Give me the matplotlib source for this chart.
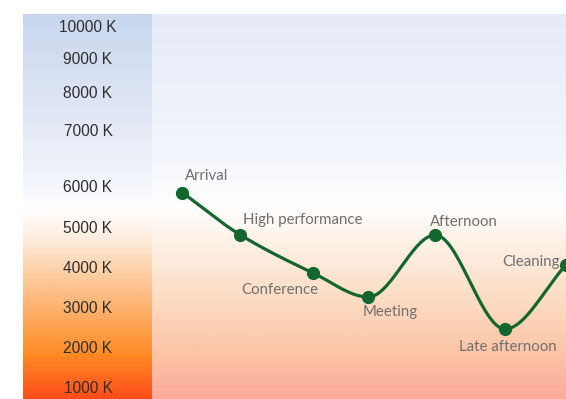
import numpy as np
import matplotlib
matplotlib.use("Agg")
import matplotlib.pyplot as plt
from matplotlib.colors import to_rgb

# ---------------- data ----------------
stages = ["Arrival", "High performance", "Conference", "Meeting",
          "Afternoon", "Late afternoon", "Cleaning"]
hours = [8.0, 9.0, 10.25, 11.2, 12.35, 13.55, 14.6]
kelvin = [5850, 4800, 3850, 3250, 4800, 2450, 4050]
tick_values = [1000, 2000, 3000, 4000, 5000, 6000, 7000, 8000, 9000, 10000]
tick_labels = ["1000 K", "2000 K", "3000 K", "4000 K", "5000 K", "6000 K",
               "7000 K", "8000 K", "9000 K", "10000 K"]

# ---------------- figure ----------------
W, H = 566, 399
fig = plt.figure(figsize=(W / 100, H / 100), dpi=100)
fig.patch.set_facecolor("white")

L, T, STRIP = 23, 14, 152
pos = [L / W, 0, (W - L) / W, (H - T) / H]

# background gradients (pixel-space axes)
bg = fig.add_axes(pos, zorder=0)
bg.axis("off")


def gradient(stops, n=400):
    ys = np.linspace(T, H, n)
    sy = [s[0] for s in stops]
    cols = np.array([to_rgb(s[1]) for s in stops])
    img = np.stack([np.interp(ys, sy, cols[:, c]) for c in range(3)], axis=-1)
    return img[:, None, :]


strip_stops = [(14, "#c9d6ee"), (100, "#dde5f4"), (180, "#f2f5fb"),
               (210, "#ffffff"), (240, "#feebdc"), (270, "#fdd2aa"),
               (300, "#fdb87c"), (330, "#fea04c"), (355, "#ff8a24"),
               (399, "#ff4c1a")]
main_stops = [(14, "#e6ebf7"), (150, "#f3f5fc"), (205, "#ffffff"),
              (250, "#fdeee2"), (300, "#fcdcc2"), (350, "#fcc6a8"),
              (399, "#fbaa9a")]
bg.imshow(gradient(strip_stops), extent=[L, STRIP, H, T], aspect="auto",
          interpolation="bilinear")
bg.imshow(gradient(main_stops), extent=[STRIP, W, H, T], aspect="auto",
          interpolation="bilinear")
bg.set_xlim(L, W)
bg.set_ylim(H, T)

# ---------------- main axes ----------------
ax = fig.add_axes(pos, zorder=1)
ax.patch.set_alpha(0)

# piecewise-linear vertical scale (label spacing of the original)
k_knots = np.array([0, 1000, 2000, 3000, 4000, 5000, 6000, 7000, 8000, 9000, 10000, 11000])
u_knots = np.array([-28, 12, 52, 92, 132, 172, 212.5, 269, 307, 341, 373, 405])


def fwd(v):
    return np.interp(v, k_knots, u_knots)


def inv(u):
    return np.interp(u, u_knots, k_knots)


ax.set_yscale("function", functions=(fwd, inv))
ax.set_ylim(inv(0), inv(H - T))

x0 = hours[0] - (182 - L) / 58.0
ax.set_xlim(x0, hours[-1])

# monotone cubic (Fritsch-Carlson) smoothing
x = np.array(hours, float)
y = np.array(kelvin, float)
h = np.diff(x)
d = np.diff(y) / h
m = np.zeros_like(y)
m[0], m[-1] = d[0], d[-1]
for k in range(1, len(x) - 1):
    if d[k - 1] * d[k] <= 0:
        m[k] = 0
    else:
        w1 = 2 * h[k] + h[k - 1]
        w2 = h[k] + 2 * h[k - 1]
        m[k] = (w1 + w2) / (w1 / d[k - 1] + w2 / d[k])
xs, ys = [], []
for k in range(len(x) - 1):
    t = np.linspace(0, 1, 60)
    h00 = 2 * t**3 - 3 * t**2 + 1
    h10 = t**3 - 2 * t**2 + t
    h01 = -2 * t**3 + 3 * t**2
    h11 = t**3 - t**2
    xs.append(x[k] + t * h[k])
    ys.append(h00 * y[k] + h10 * h[k] * m[k] + h01 * y[k + 1] + h11 * h[k] * m[k + 1])
xs = np.concatenate(xs)
ys = np.concatenate(ys)

green = "#12662e"
ax.plot(xs, ys, color=green, lw=2.3, solid_capstyle="round", zorder=3)
ax.plot(x, y, "o", color=green, ms=8.5, zorder=4)

# point labels (offsets in points)
offsets = [(2, 12, "left"), (2, 11, "left"), (3.6, -12, "right"), (-4.3, -11, "left"),
           (-3.6, 9.4, "left"), (2, -13, "center"), (-4.3, 2, "right")]
for name, xv, yv, (dx, dy, ha) in zip(stages, hours, kelvin, offsets):
    ax.annotate(name, (xv, yv), xytext=(dx, dy), textcoords="offset points",
                ha=ha, va="center", fontsize=10.8, color="#707070",
                family=["Lato", "DejaVu Sans"], zorder=5)

# y ticks (centered in the colored strip)
ax.set_yticks(tick_values)
ax.set_yticklabels(tick_labels)
ax.yaxis.set_minor_locator(matplotlib.ticker.NullLocator())
ax.tick_params(axis="y", length=0, pad=-(88 - L) * 0.72)
for lab in ax.get_yticklabels():
    lab.set_horizontalalignment("center")
    lab.set_fontsize(11.2)
    lab.set_color("#2e2e2e")
    lab.set_family(["Liberation Sans", "DejaVu Sans"])
ax.set_xticks([])
for s in ax.spines.values():
    s.set_visible(False)

fig.savefig("out.png", dpi=100, facecolor="white")
